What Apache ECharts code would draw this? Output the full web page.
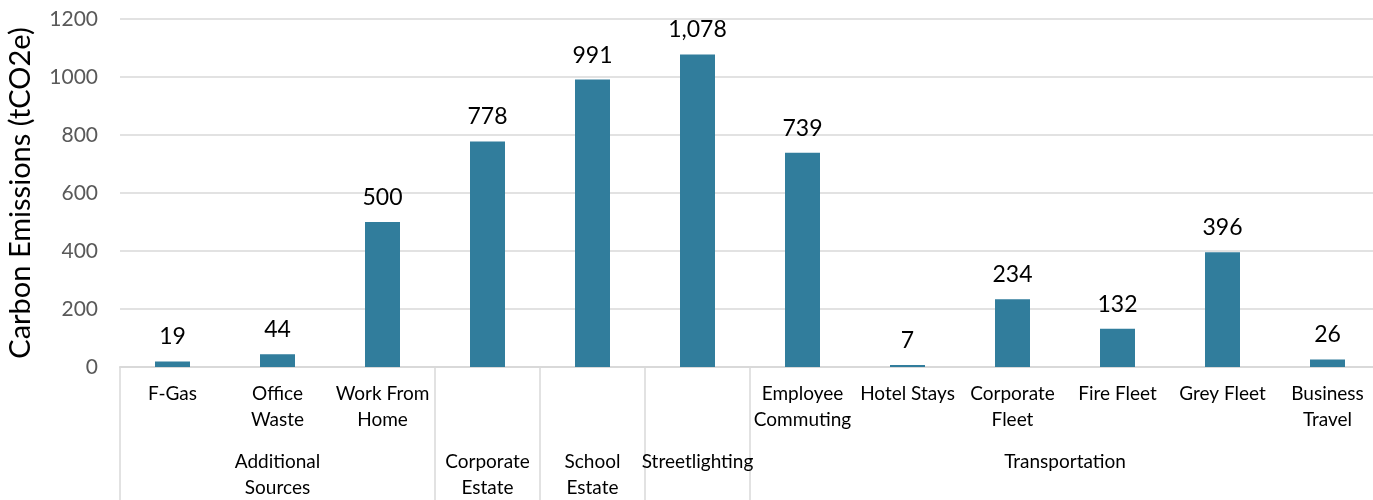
<!DOCTYPE html>
<html>
<head>
<meta charset="utf-8">
<script src="https://cdn.jsdelivr.net/npm/echarts@6/dist/echarts.min.js"></script>
<style>html,body{margin:0;padding:0;background:#fff}#c{width:1373px;height:500px}</style>
</head>
<body>
<div id="c"></div>
<script>
const categories = ['F-Gas','Office\nWaste','Work From\nHome','','','','Employee\nCommuting','Hotel Stays','Corporate\nFleet','Fire Fleet','Grey Fleet','Business\nTravel'];
const values = [19, 44, 500, 778, 991, 1078, 739, 7, 234, 132, 396, 26];
const groups = ['Additional\nSources','Corporate\nEstate','School\nEstate','Streetlighting','Transportation'];
const groupSizes = [3, 1, 1, 1, 6];
const yTicks = [0, 200, 400, 600, 800, 1000, 1200];

// group boundaries and centres (in category units)
const boundaries = [0];
const centres = {};
groupSizes.forEach((s, i) => {
  const start = boundaries[boundaries.length - 1];
  centres[(start + s / 2).toFixed(1)] = groups[i];
  boundaries.push(start + s);
});

const FONT = 'Lato';
const chart = echarts.init(document.getElementById('c'));
chart.setOption({
  animation: false,
  textStyle: { fontFamily: FONT },
  grid: { left: 120, right: -7, top: 19, bottom: 133, containLabel: false, outerBoundsMode: 'none' },
  xAxis: [
    {
      type: 'category',
      data: categories,
      boundaryGap: true,
      axisLine: { show: true, lineStyle: { color: '#d9d9d9', width: 2 } },
      axisTick: {
        show: true, length: 135, inside: false,
        interval: (idx) => boundaries.indexOf(idx) >= 0,
        lineStyle: { color: '#d9d9d9', width: 1.5 }
      },
      axisLabel: {
        interval: 0, color: '#000', fontSize: 19, lineHeight: 26, margin: 14, fontFamily: FONT
      },
      splitLine: { show: false }
    },
    {
      type: 'value',
      position: 'bottom',
      min: 0, max: 12, interval: 0.5,
      axisLine: { show: false }, axisTick: { show: false }, splitLine: { show: false },
      axisLabel: {
        show: true, color: '#000', fontSize: 19, lineHeight: 26, margin: 82, fontFamily: FONT,
        showMinLabel: true, showMaxLabel: true,
        formatter: (v) => centres[Number(v).toFixed(1)] || ''
      }
    }
  ],
  yAxis: {
    type: 'value',
    min: yTicks[0], max: yTicks[yTicks.length - 1], interval: 200,
    name: 'Carbon Emissions (tCO2e)',
    nameLocation: 'middle', nameGap: 85, nameRotate: 90,
    nameTextStyle: { fontSize: 29, color: '#000', fontFamily: FONT },
    axisLine: { show: false }, axisTick: { show: false },
    axisLabel: { color: '#595959', fontSize: 21, margin: 22, fontFamily: FONT, formatter: (v) => String(v) },
    splitLine: { lineStyle: { color: '#d9d9d9', width: 1.5 } }
  },
  series: [{
    type: 'bar',
    xAxisIndex: 0,
    data: values,
    barWidth: 35,
    itemStyle: { color: '#317D9C' },
    label: {
      show: true, position: 'top', distance: 13, color: '#000', fontSize: 23, fontFamily: FONT,
      formatter: (p) => p.value.toLocaleString('en-US')
    }
  }]
});
</script>
</body>
</html>
